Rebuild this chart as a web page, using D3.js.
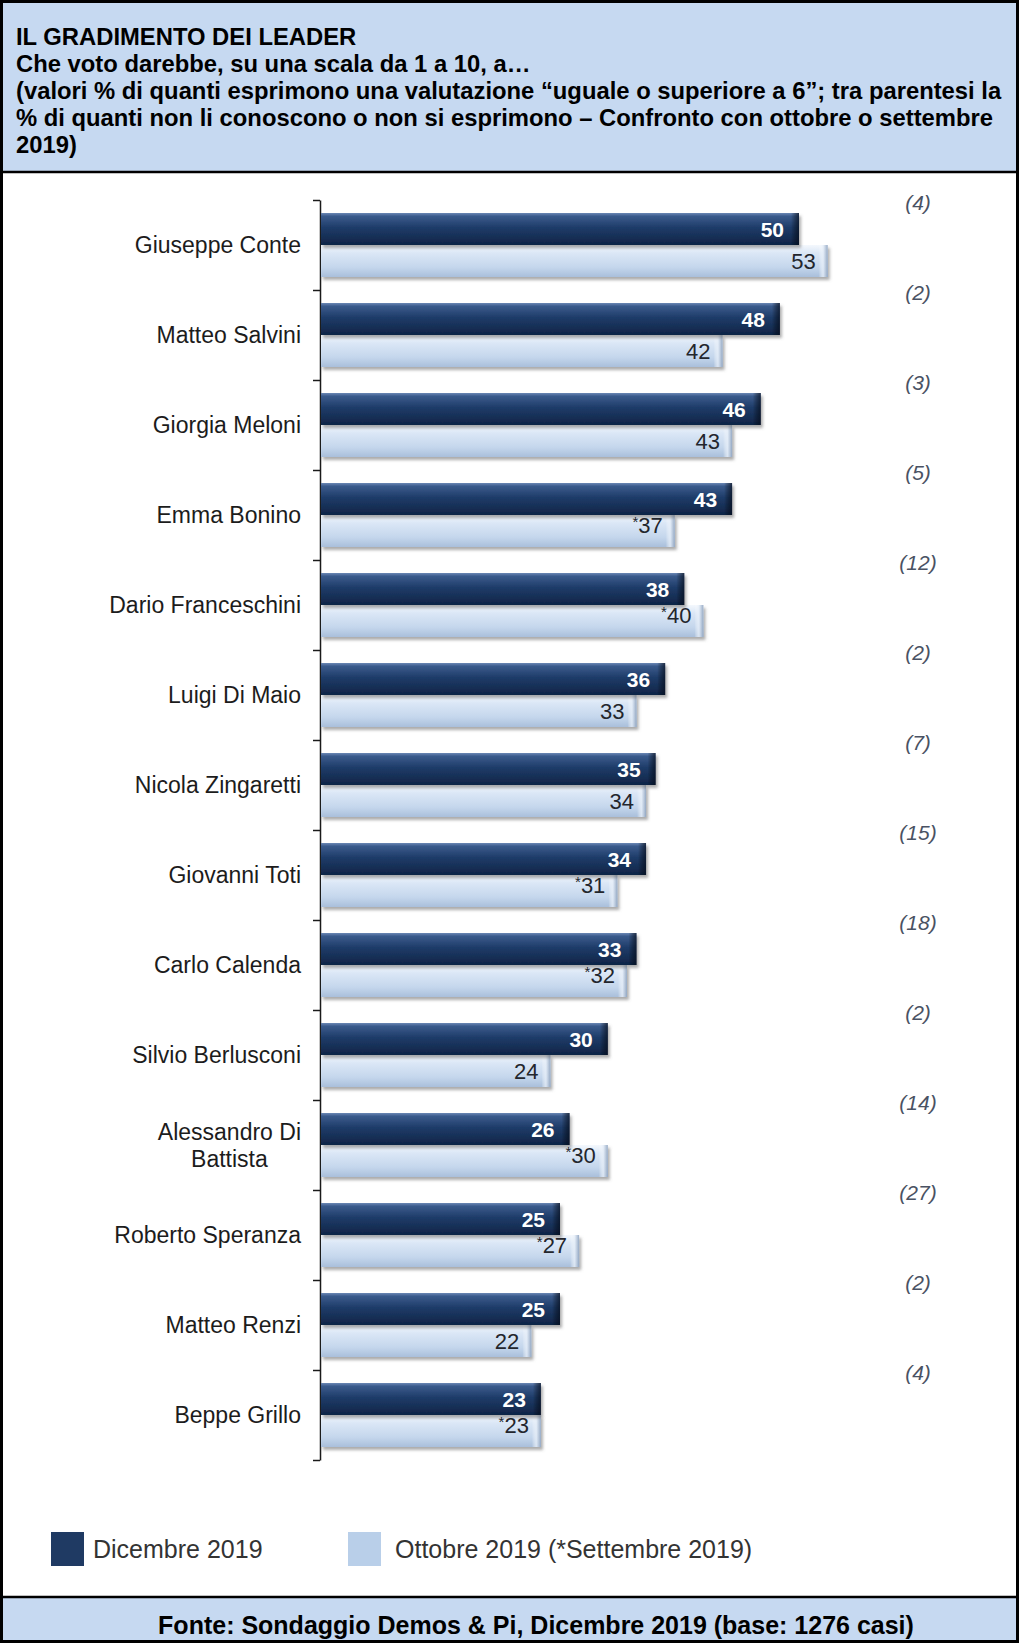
<!DOCTYPE html>
<html><head><meta charset="utf-8">
<script src="https://cdn.jsdelivr.net/npm/d3@7"></script>
<style>body{margin:0;background:#fff}svg{display:block}</style>
</head><body><svg id="c" width="1019" height="1643"></svg>
<script>
const categories = ["Giuseppe Conte","Matteo Salvini","Giorgia Meloni","Emma Bonino","Dario Franceschini","Luigi Di Maio","Nicola Zingaretti","Giovanni Toti","Carlo Calenda","Silvio Berlusconi","Alessandro Di Battista","Roberto Speranza","Matteo Renzi","Beppe Grillo"];
const dicembre = [50,48,46,43,38,36,35,34,33,30,26,25,25,23];
const ottobre = [53,42,43,37,40,33,34,31,32,24,30,27,22,23];
const ottobreIsSettembre = [false,false,false,true,true,false,false,true,true,false,true,true,false,true];
const nonRisponde = [4,2,3,5,12,2,7,15,18,2,14,27,2,4];
const seriesNames = ["Dicembre 2019","Ottobre 2019 (*Settembre 2019)"];
const titleLines = ["IL GRADIMENTO DEI LEADER","Che voto darebbe, su una scala da 1 a 10, a…","(valori % di quanti esprimono una valutazione “uguale o superiore a 6”; tra parentesi la","% di quanti non li conoscono o non si esprimono – Confronto con ottobre o settembre","2019)"];
const sourceText = "Fonte: Sondaggio Demos & Pi, Dicembre 2019 (base: 1276 casi)";

const W = 1019, H = 1643;
const svg = d3.select("#c");
const FONT = "Liberation Sans, Arial, sans-serif";
const headerBg = "#c6d9f1";
const headerBottom = 172, footerTop = 1597;

const defs = svg.append("defs");
function grad(id, horiz, stops){
  const g = defs.append("linearGradient").attr("id",id).attr("x1",0).attr("y1",0).attr("x2",horiz?1:0).attr("y2",horiz?0:1);
  stops.forEach(s=>g.append("stop").attr("offset",s[0]).attr("stop-color",s[1]).attr("stop-opacity",s[2]===undefined?1:s[2]));
}
grad("gDark",false,[["0%","#6b88b5"],["10%","#3a5b8c"],["45%","#1f3c69"],["100%","#0f2446"]]);
grad("gLight",false,[["0%","#f4f8fd"],["25%","#dbe7f6"],["70%","#c4d6ec"],["100%","#a9bfdb"]]);
grad("gDarkEnd",true,[["0%","#000",0],["100%","#050d1c",0.7]]);
grad("gLightEnd",true,[["0%","#fff",0],["50%","#e6eef8",0.8],["100%","#8ea3bf",0.9]]);
const f = defs.append("filter").attr("id","shadow").attr("x","-5%").attr("y","-20%").attr("width","115%").attr("height","160%");
f.append("feDropShadow").attr("dx",2).attr("dy",3).attr("stdDeviation",1.8).attr("flood-color","#6a6a6a").attr("flood-opacity",0.55);

// header & footer
svg.append("rect").attr("x",0).attr("y",0).attr("width",W).attr("height",headerBottom).attr("fill",headerBg);
svg.append("rect").attr("x",0).attr("y",footerTop).attr("width",W).attr("height",H-footerTop).attr("fill",headerBg);
const ht = svg.append("g").attr("font-family",FONT).attr("font-weight","bold").attr("font-size",23.8).attr("fill","#000");
titleLines.forEach((t,i)=>{
  ht.append("text").attr("x",16).attr("y",45+i*27).text(t);
});
svg.append("text").attr("x",536).attr("y",1634).attr("text-anchor","middle")
  .attr("font-family",FONT).attr("font-weight","bold").attr("font-size",25).text(sourceText);

// borders
svg.append("line").attr("x1",0).attr("x2",W).attr("y1",headerBottom).attr("y2",headerBottom).attr("stroke","#000").attr("stroke-width",2.5);
svg.append("line").attr("x1",0).attr("x2",W).attr("y1",footerTop).attr("y2",footerTop).attr("stroke","#000").attr("stroke-width",2.5);
svg.append("rect").attr("x",1.5).attr("y",1.5).attr("width",W-3).attr("height",H-3).attr("fill","none").attr("stroke","#000").attr("stroke-width",3);

// scales
const x = d3.scaleLinear().domain([0,50]).range([321,799]);
const y = d3.scaleBand().domain(categories).range([200,1460]).paddingInner(26/90).paddingOuter(13/90);
const y1 = d3.scaleBand().domain(["dic","ott"]).range([0,y.bandwidth()]);
const yb = d3.scaleLinear().domain([0,categories.length]).range([200,1460]);

// axis
const axis = d3.axisLeft(yb).ticks(categories.length).tickSize(7).tickSizeOuter(0).tickFormat("");
const ag = svg.append("g").attr("transform","translate(320,0)").call(axis);
ag.select(".domain").attr("stroke","#1a1a1a").attr("stroke-width",1.5);
ag.selectAll(".tick line").attr("stroke","#1a1a1a").attr("stroke-width",1.5);

const data = categories.map((c,i)=>({c, dic:dicembre[i], ott:ottobre[i], star:ottobreIsSettembre[i], nr:nonRisponde[i]}));
const groups = svg.append("g").selectAll("g").data(data).join("g").attr("transform",d=>`translate(0,${y(d.c)})`);

groups.append("rect").attr("x",x(0)).attr("y",y1("ott")).attr("width",d=>x(d.ott)-x(0)).attr("height",y1.bandwidth())
  .attr("fill","url(#gLight)").attr("filter","url(#shadow)");
groups.append("rect").attr("x",d=>x(d.ott)-9).attr("y",y1("ott")).attr("width",9).attr("height",y1.bandwidth()).attr("fill","url(#gLightEnd)");
groups.append("rect").attr("x",x(0)).attr("y",y1("dic")).attr("width",d=>x(d.dic)-x(0)).attr("height",y1.bandwidth())
  .attr("fill","url(#gDark)").attr("filter","url(#shadow)");
groups.append("rect").attr("x",d=>x(d.dic)-8).attr("y",y1("dic")).attr("width",8).attr("height",y1.bandwidth()).attr("fill","url(#gDarkEnd)");

groups.append("text").attr("x",d=>x(d.dic)-15).attr("y",y1("dic")+y1.bandwidth()/2).attr("dy","0.36em")
  .attr("text-anchor","end").attr("font-family",FONT).attr("font-weight","bold").attr("font-size",21).attr("fill","#fff").text(d=>d.dic);
const lt = groups.append("text").attr("x",d=>x(d.ott)-12).attr("y",y1("ott")+y1.bandwidth()/2).attr("dy","0.38em")
  .attr("text-anchor","end").attr("font-family",FONT).attr("font-size",22).attr("fill","#23262d");
lt.filter(d=>d.star).append("tspan").attr("font-size",15).attr("dy","-0.25em").text("*");
lt.append("tspan").attr("dy",d=>d.star?"0.25em":null).text(d=>d.ott);

// parentheses column
groups.append("text").attr("x",918).attr("y",-10).attr("dy","0.35em").attr("text-anchor","middle")
  .attr("font-family",FONT).attr("font-style","italic").attr("font-size",21).attr("fill","#4a5263").text(d=>`(${d.nr})`);

// category labels with wrapping
const labelRight = 301, maxW = 215;
groups.each(function(d){
  const g = d3.select(this);
  const t = g.append("text").attr("font-family",FONT).attr("font-size",23).attr("fill","#1c1c1c");
  const words = d.c.split(" ");
  let lines = [], cur = [];
  const probe = t.append("tspan");
  words.forEach(w=>{
    probe.text(cur.concat([w]).join(" "));
    if (probe.node().getComputedTextLength() > maxW && cur.length){ lines.push(cur.join(" ")); cur=[w]; }
    else cur.push(w);
  });
  lines.push(cur.join(" "));
  probe.remove();
  const widths = lines.map(l=>{ const p=t.append("tspan").text(l); const w=p.node().getComputedTextLength(); p.remove(); return w; });
  const cx = labelRight - d3.max(widths)/2;
  const lh = 27, mid = y.bandwidth()/2;
  lines.forEach((l,i)=>{
    t.append("tspan").attr("x",cx).attr("text-anchor","middle").attr("y",mid + (i-(lines.length-1)/2)*lh).attr("dy","0.36em").text(l);
  });
});

// legend
const lg = svg.append("g").attr("font-family",FONT).attr("font-size",25).attr("fill","#333");
const legendItems = [{name:seriesNames[0], fill:"#1f3a63", bx:51, tx:93},{name:seriesNames[1], fill:"#b9cfe9", bx:348, tx:395}];
legendItems.forEach(it=>{
  lg.append("rect").attr("x",it.bx).attr("y",1532).attr("width",33).attr("height",34).attr("fill",it.fill);
  lg.append("text").attr("x",it.tx).attr("y",1549).attr("dy","0.35em").text(it.name);
});
</script></body></html>
